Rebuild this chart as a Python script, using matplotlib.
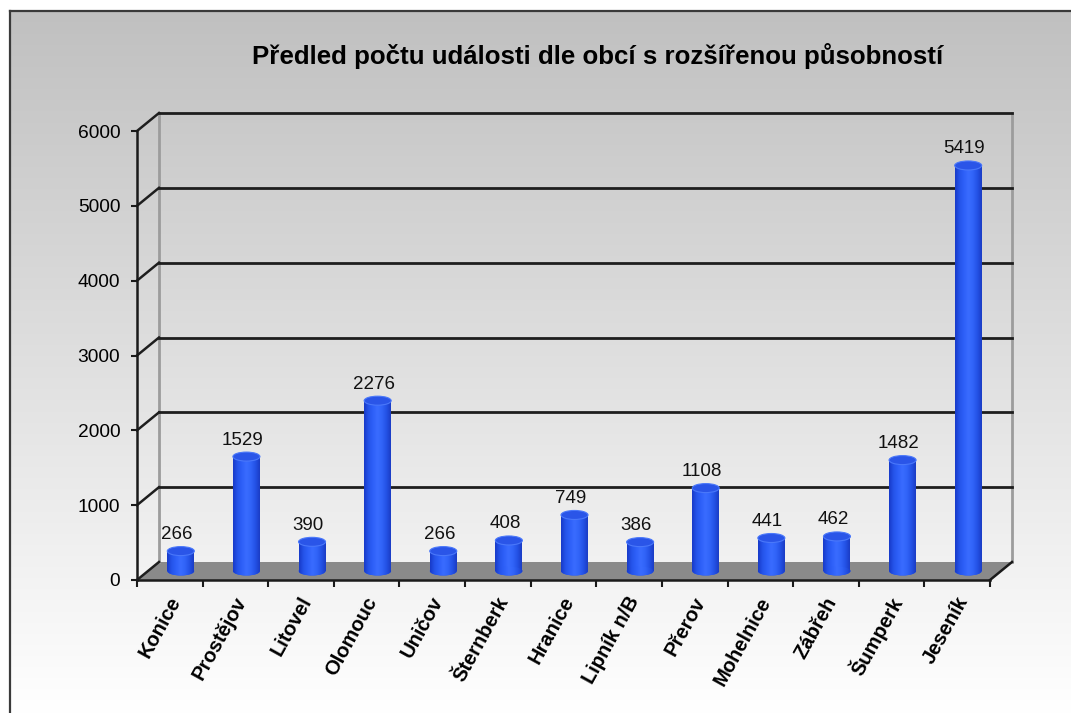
import numpy as np
import matplotlib
matplotlib.use('Agg')
import matplotlib.pyplot as plt
from matplotlib.patches import Polygon, Ellipse
from matplotlib.colors import LinearSegmentedColormap
from matplotlib.transforms import ScaledTranslation

plt.rcParams['font.family'] = ['Liberation Sans', 'DejaVu Sans']

categories = ['Konice', 'Prostějov', 'Litovel', 'Olomouc', 'Uničov', 'Šternberk',
              'Hranice', 'Lipník n/B', 'Přerov', 'Mohelnice', 'Zábřeh', 'Šumperk', 'Jeseník']
values = [266, 1529, 390, 2276, 266, 408, 749, 386, 1108, 441, 462, 1482, 5419]
yticks = [0, 1000, 2000, 3000, 4000, 5000, 6000]
title = 'Předled počtu události dle obcí s rozšířenou působností'

W, H = 1071, 713
fig = plt.figure(figsize=(W / 100, H / 100), dpi=100)
fig.patch.set_facecolor('white')

# background gradient + chart border
bg = fig.add_axes([0, 0, 1, 1], zorder=0)
grad = np.linspace(0, 1, 256).reshape(-1, 1)
bgcmap = LinearSegmentedColormap.from_list('bg', ['#c0c0c0', '#ffffff'])
bg.imshow(grad, cmap=bgcmap, extent=[9, W, H, 10], aspect='auto', interpolation='bicubic')
bg.plot([9.5, 9.5], [H, 10.5], color='#3a3a3a', lw=1.6)
bg.plot([9.5, W], [10.5, 10.5], color='#3a3a3a', lw=1.6)
bg.set_xlim(0, W)
bg.set_ylim(H, 0)
bg.axis('off')

fig.text(598 / W, 1 - 56 / H, title, ha='center', va='center',
         fontsize=18.6, fontweight='bold')

# main axes = front plane
L, R, T, B = 137, 990, 131, 580
ax = fig.add_axes([L / W, 1 - B / H, (R - L) / W, (B - T) / H], zorder=1)
ax.patch.set_alpha(0)
n = len(categories)
x = np.arange(n)
ymax = yticks[-1]
DX = 22 / ((R - L) / n)          # depth offset in category units
DY = 18 * ymax / (B - T)         # depth offset in value units

# floor
ax.add_patch(Polygon([(-0.5, 0), (n - 0.5, 0), (n - 0.5 + DX, DY), (-0.5 + DX, DY)],
                     closed=True, fc='#8a8a8a', ec='none', clip_on=False, zorder=1))
ax.plot([n - 0.5, n - 0.5 + DX], [0, DY], color='#1a1a1a', lw=1.8, clip_on=False, zorder=2)

# back wall edges and gridlines
for xe in (-0.5 + DX, n - 0.5 + DX):
    ax.plot([xe, xe], [DY, ymax + DY], color='#9c9c9c', lw=2, clip_on=False, zorder=1)
for v in yticks[1:]:
    ax.plot([-0.5 + DX, n - 0.5 + DX], [v + DY, v + DY], color='#1e1e1e', lw=2,
            clip_on=False, zorder=2)
for v in yticks:
    ax.plot([-0.5, -0.5 + DX], [v, v + DY], color='#1e1e1e', lw=1.8, clip_on=False, zorder=2)

# cylinders
bw = 27 / ((R - L) / n)
EH = 9 * ymax / (B - T)
cyl = LinearSegmentedColormap.from_list('cyl', ['#1739c8', '#2554ea', '#2e60f8', '#3a6cff',
                                                '#3164f8', '#2452e6', '#1a3cc4'])
hgrad = np.linspace(0, 1, 128).reshape(1, -1)
bars = ax.bar(x + DX / 2, values, width=bw, bottom=DY / 2, color='#2a5af0',
              zorder=3, clip_on=False)
for xi, v, rect in zip(x, values, bars):
    xc = xi + DX / 2
    be = Ellipse((xc, DY / 2), bw, EH, fc='#2a5af0', ec='none', zorder=3, clip_on=False)
    ax.add_patch(be)
    for patch in (rect, be):
        im = ax.imshow(hgrad, cmap=cyl, extent=[xc - bw / 2, xc + bw / 2, DY / 2 - EH, v + DY / 2],
                       aspect='auto', zorder=3.5, interpolation='bicubic')
        im.set_clip_path(patch)
    ax.add_patch(Ellipse((xc, v + DY / 2), bw, EH, fc='#2a55e8', ec='#4a78fa', lw=0.8,
                         zorder=4, clip_on=False))
    ax.annotate(f'{v}', xy=(xc, v + DY / 2), xytext=(-4, 8), textcoords='offset pixels',
                ha='center', va='bottom', fontsize=13.5, color='#111111', zorder=5)

# axes styling
for s in ('top', 'right'):
    ax.spines[s].set_visible(False)
for s in ('left', 'bottom'):
    ax.spines[s].set_linewidth(1.8)
    ax.spines[s].set_color('#1a1a1a')
    ax.spines[s].set_zorder(2.5)
ax.set_xticks(x)
ax.set_xticks(np.arange(-0.5, n, 1), minor=True)
ax.set_xticklabels(categories, rotation=61, ha='right', va='center',
                   rotation_mode='anchor', fontsize=14.5, fontweight='bold')
ax.tick_params(axis='x', which='major', length=0, pad=13)
ax.tick_params(axis='x', which='minor', length=5, width=1.5, direction='out', color='#1a1a1a')
ax.set_yticks(yticks)
ax.tick_params(axis='y', length=4, width=1.5, pad=8, labelsize=13.8, color='#1a1a1a')
for lab in ax.get_xticklabels():
    lab.set_transform(lab.get_transform() + ScaledTranslation(0.06, 0, fig.dpi_scale_trans))
ax.set_xlim(-0.5, n - 0.5)
ax.set_ylim(0, ymax)

fig.savefig('out.png', dpi=100)
